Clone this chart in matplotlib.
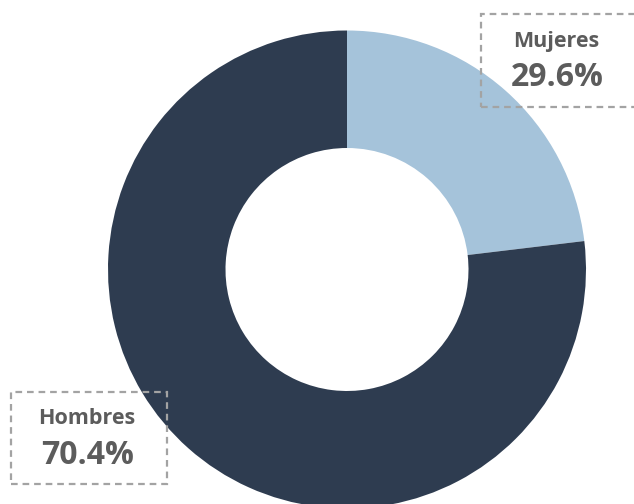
import matplotlib.pyplot as plt
from matplotlib.patches import Rectangle

# slice shares as they appear in the drawing, and the printed labels
groups = ['Mujeres', 'Hombres']
shares = [23.1, 76.9]
pct_labels = ['29.6%', '70.4%']
colors = ['#a5c3da', '#2e3c50']

W, H = 634, 504
fig = plt.figure(figsize=(W / 100, H / 100), dpi=100)
ax = fig.add_axes([0, 0, 1, 1])

ax.pie(shares, colors=colors, startangle=90, counterclock=False,
       center=(347, H - 269.5), radius=239,
       wedgeprops=dict(width=117.5, linewidth=0))

ax.set_xlim(0, W)
ax.set_ylim(0, H)
ax.set_aspect('equal')
ax.axis('off')

txt = '#5c5c5c'
box_c = '#a3a3a3'

# label boxes (x, y top in pixels, width, height)
boxes = [(481, 14, 170, 93), (11, 392, 156, 92)]
name_pos = [(556, 42), (87, 418)]
pct_pos = [(557, 77), (88, 456)]

for (bx, by, bw, bh), (nx, ny), (px, py), g, p in zip(boxes, name_pos, pct_pos, groups, pct_labels):
    ax.add_patch(Rectangle((bx, H - by - bh), bw, bh, fill=False,
                           edgecolor=box_c, linewidth=1.6,
                           linestyle=(0, (3, 2.2)), zorder=5))
    ax.text(nx, H - ny, g, ha='center', va='center', fontsize=15.5,
            fontweight='bold', color=txt, family='Open Sans', zorder=6)
    ax.text(px, H - py, p, ha='center', va='center', fontsize=23,
            fontweight='bold', color=txt, family='Open Sans', zorder=6)

fig.savefig('out.png', dpi=100)
